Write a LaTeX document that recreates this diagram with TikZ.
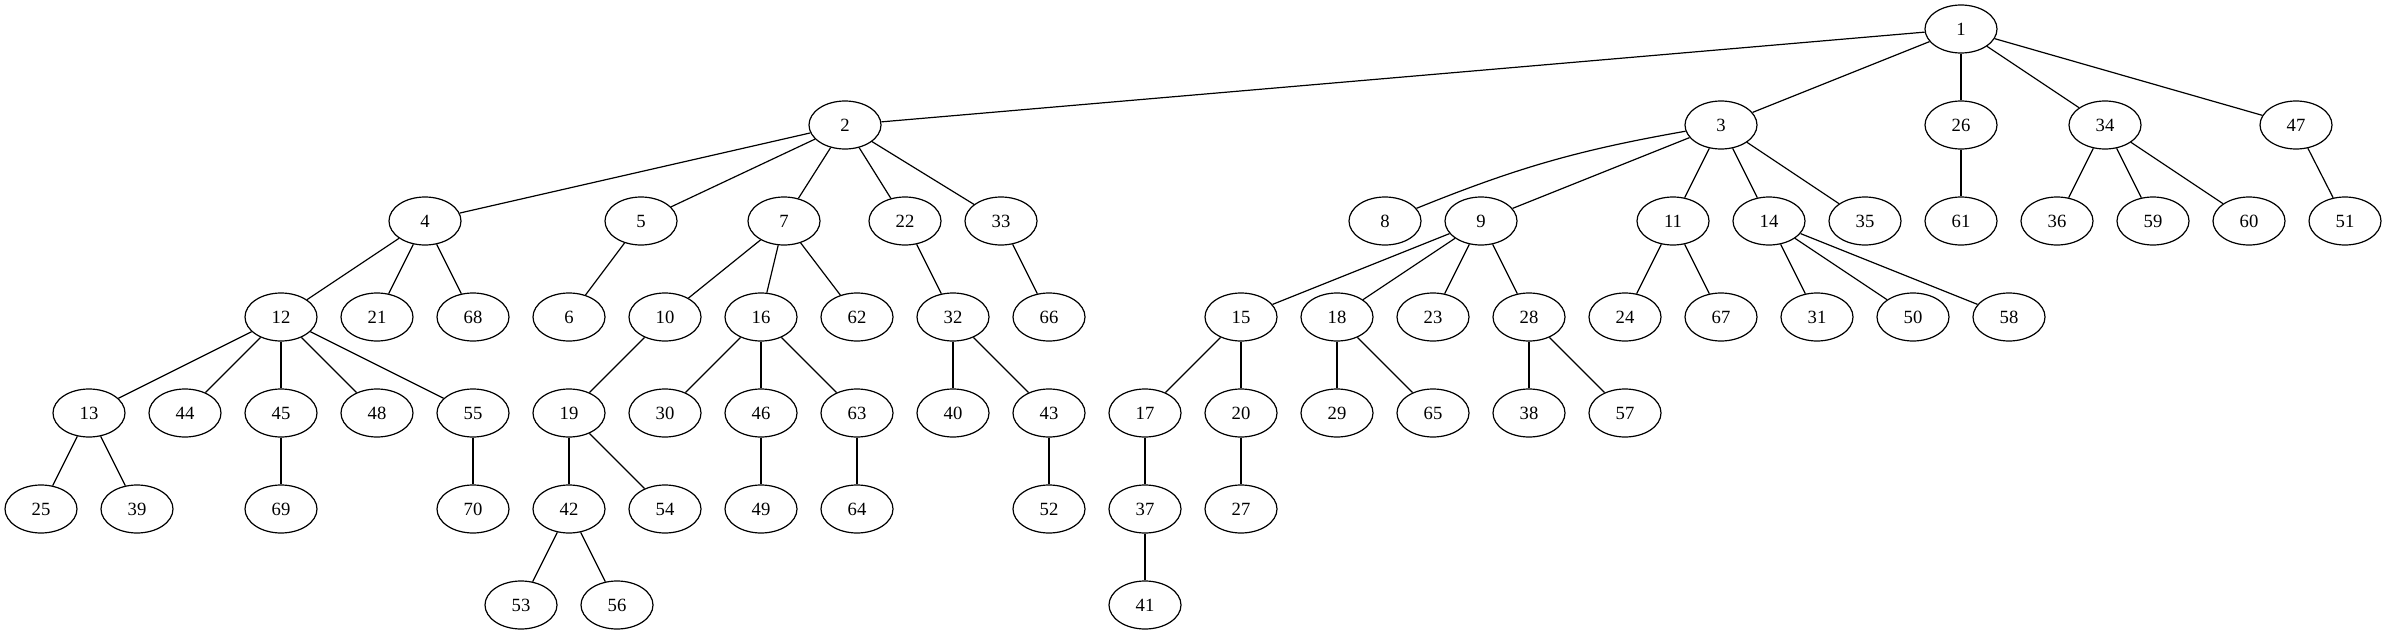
\documentclass[tikz,border=0pt]{standalone}
\usepackage{fontspec}
\setmainfont{Liberation Serif}
\usetikzlibrary{shapes.geometric}
\tikzset{
  gv/.style={draw, ellipse, line width=0.9pt, minimum width=54pt, minimum height=36pt, inner sep=0pt, font=\fontsize{14}{16}\selectfont},
  gvedge/.style={line width=0.9pt}
}
\begin{document}
\begin{tikzpicture}[x=0.75pt, y=-0.75pt]
\useasboundingbox (0,0) rectangle (2387,635);
\foreach \n/\px/\py in {
 1/1961/29,
 2/845/125, 3/1721/125, 26/1961/125, 34/2105/125, 47/2296/125,
 4/425/221, 5/641/221, 7/784/221, 22/905/221, 33/1001/221, 8/1385/221, 9/1481/221, 11/1673/221, 14/1769/221, 35/1865/221, 61/1961/221, 36/2057/221, 59/2153/221, 60/2249/221, 51/2345/221,
 12/281/317, 21/377/317, 68/473/317, 6/569/317, 10/665/317, 16/761/317, 62/857/317, 32/953/317, 66/1049/317, 15/1241/317, 18/1337/317, 23/1433/317, 28/1529/317, 24/1625/317, 67/1721/317, 31/1817/317, 50/1913/317, 58/2009/317,
 13/89/413, 44/185/413, 45/281/413, 48/377/413, 55/473/413, 19/569/413, 30/665/413, 46/761/413, 63/857/413, 40/953/413, 43/1049/413, 17/1145/413, 20/1241/413, 29/1337/413, 65/1433/413, 38/1529/413, 57/1625/413,
 25/41/509, 39/137/509, 69/281/509, 70/473/509, 42/569/509, 54/665/509, 49/761/509, 64/857/509, 52/1049/509, 37/1145/509, 27/1241/509,
 53/521/605, 56/617/605, 41/1145/605}
 \node[gv] (n\n) at (\px,\py) {\n};
\foreach \a/\b in {
 1/2, 1/3, 1/26, 1/34, 1/47,
 2/4, 2/5, 2/7, 2/22, 2/33,
 3/9, 3/11, 3/14, 3/35,
 26/61, 34/36, 34/59, 34/60, 47/51,
 4/12, 4/21, 4/68, 5/6, 7/10, 7/16, 7/62, 22/32, 33/66,
 9/15, 9/18, 9/23, 9/28, 11/24, 11/67, 14/31, 14/50, 14/58,
 12/13, 12/44, 12/45, 12/48, 12/55, 10/19, 16/30, 16/46, 16/63,
 32/40, 32/43, 15/17, 15/20, 18/29, 18/65, 28/38, 28/57,
 13/25, 13/39, 45/69, 55/70, 19/42, 19/54, 46/49, 63/64, 43/52, 17/37, 20/27,
 42/53, 42/56, 37/41}
 \draw[gvedge] (n\a) -- (n\b);
\draw[gvedge] (n3) to[bend right=6] (n8);
\end{tikzpicture}
\end{document}
